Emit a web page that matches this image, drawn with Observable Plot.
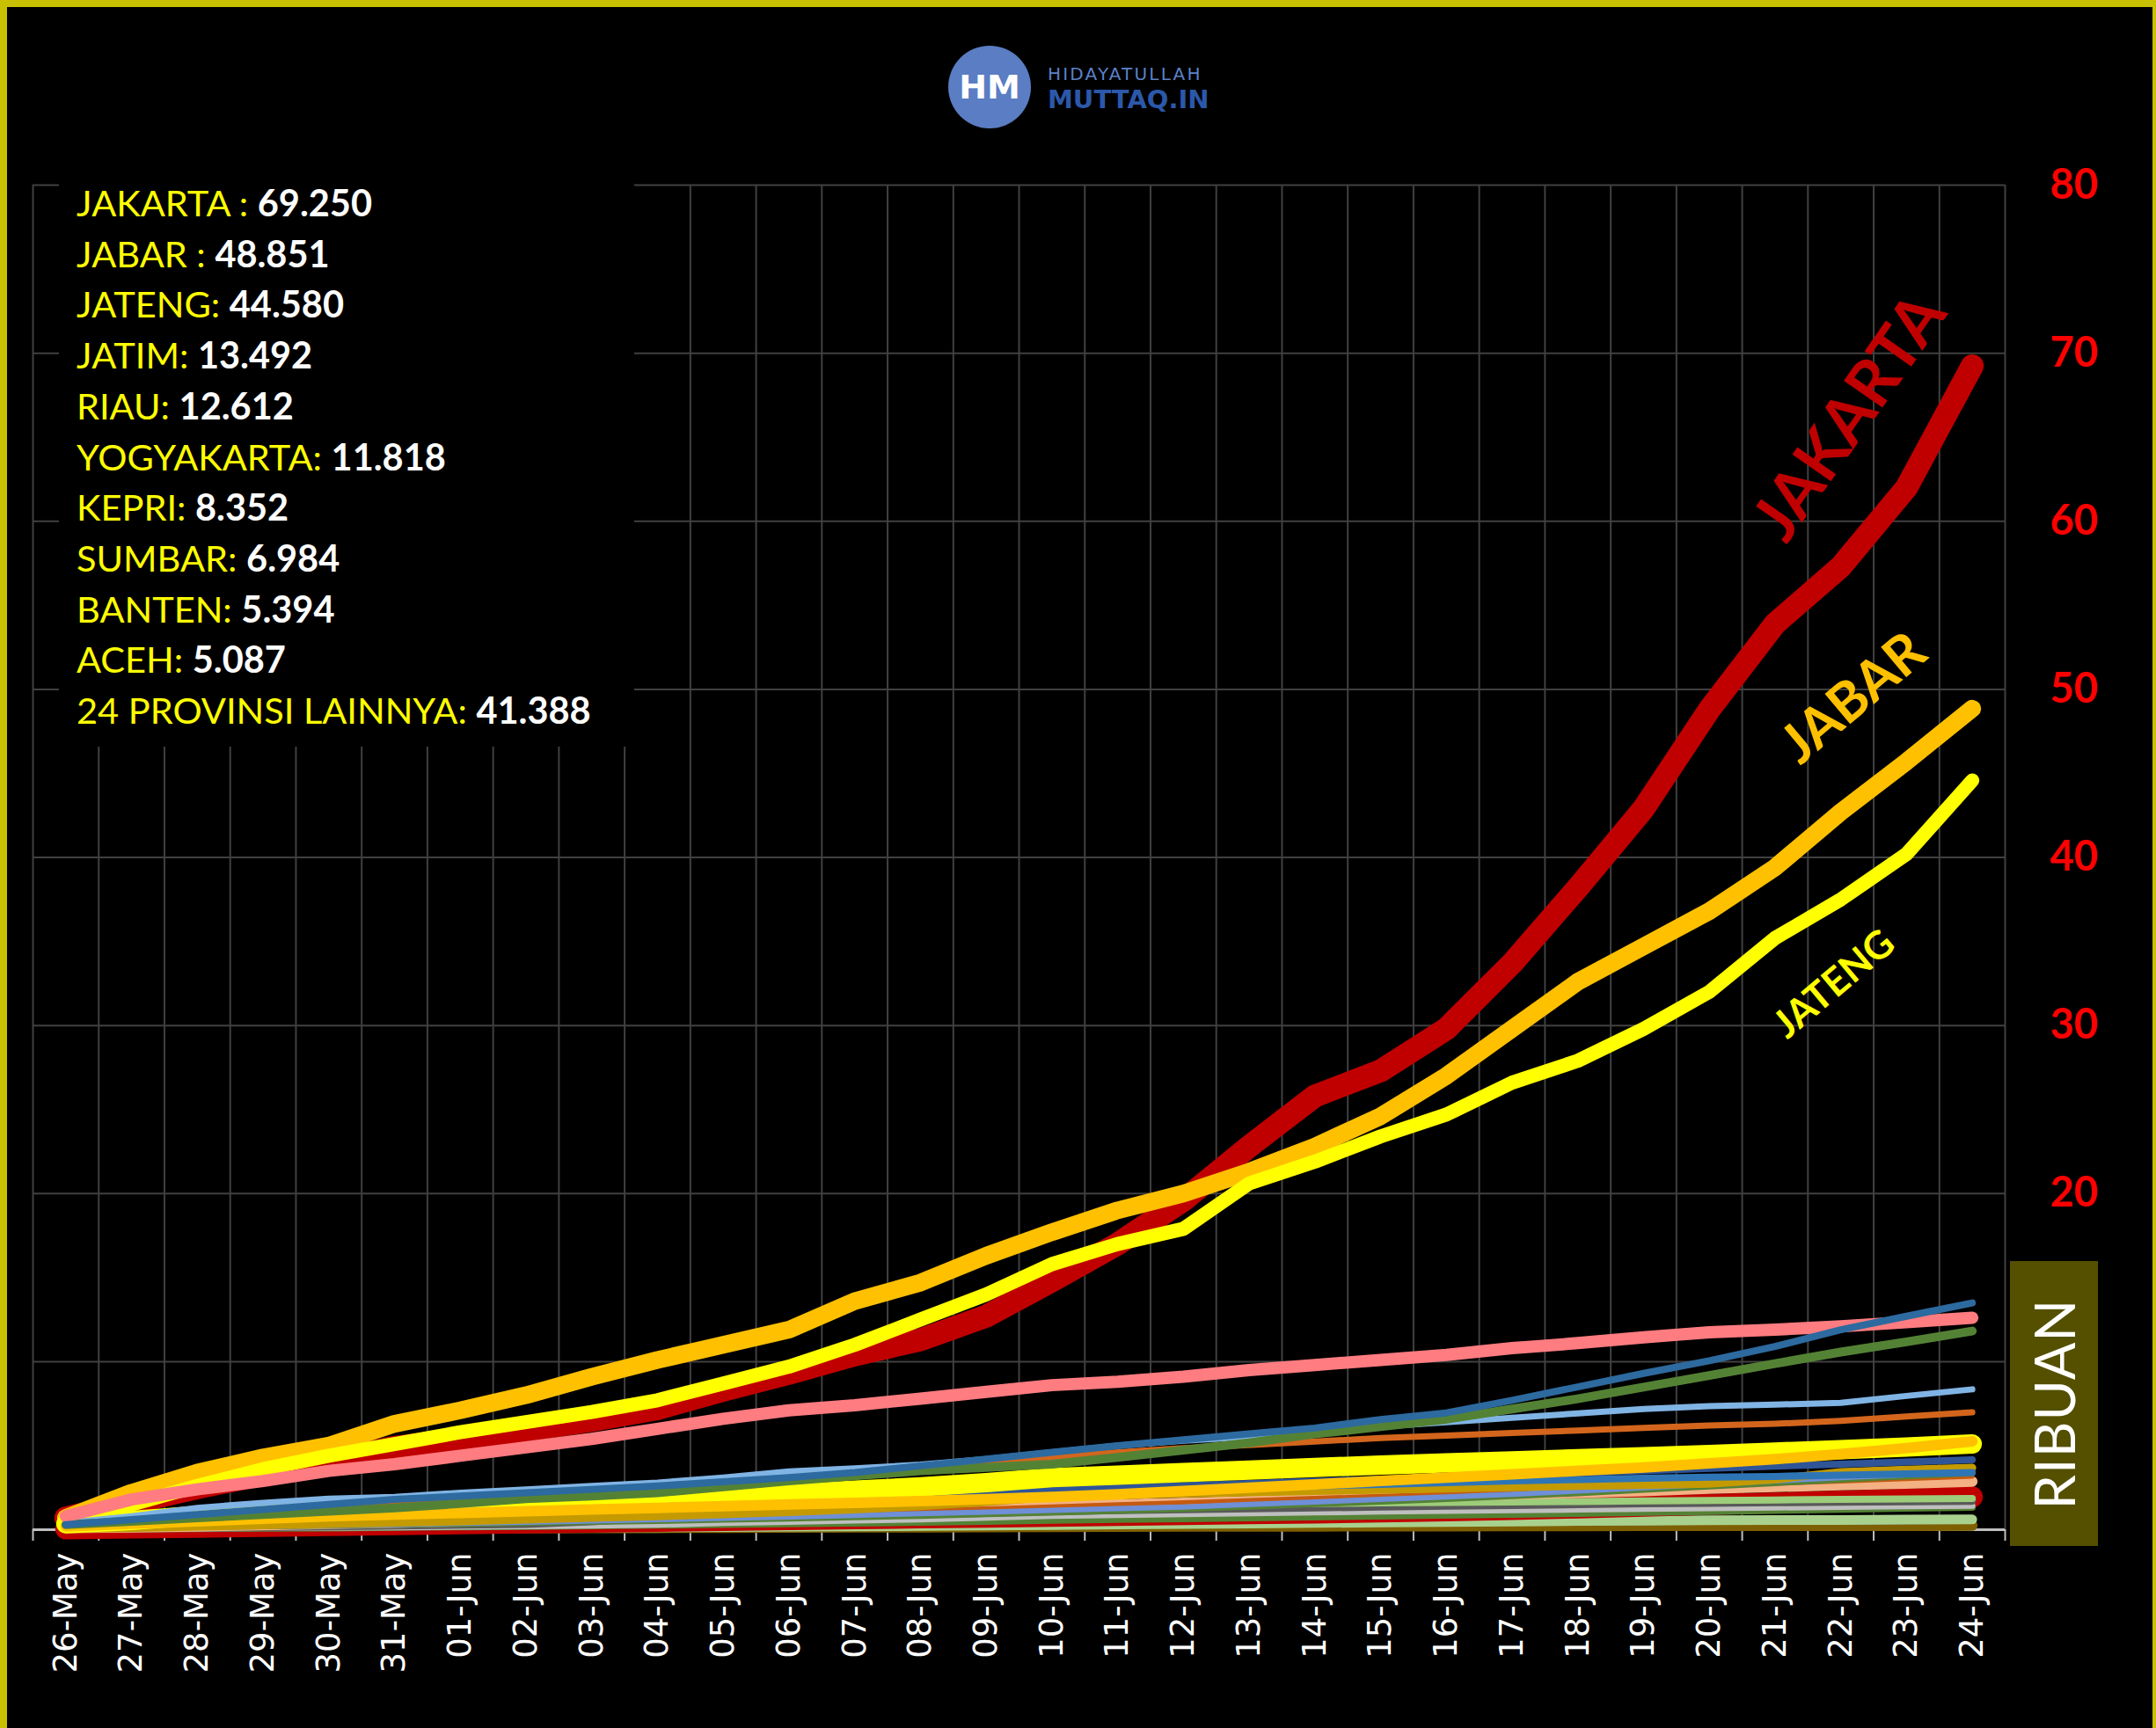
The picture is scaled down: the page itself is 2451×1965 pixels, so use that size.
<!DOCTYPE html>
<html>
<head>
<meta charset="utf-8">
<script src="https://cdn.jsdelivr.net/npm/d3@7"></script>
<script src="https://cdn.jsdelivr.net/npm/@observablehq/plot@0.6"></script>
<style>
  html, body { margin: 0; padding: 0; background: #000; }
  #wrap { position: relative; width: 2451px; height: 1965px; background: #000; overflow: hidden; }
  #chart { position: absolute; left: 0; top: 0; }
  .abs { position: absolute; }
</style>
</head>
<body>
<div id="wrap">
  <div id="chart"></div>
</div>
<script>
// ---------- DATA ----------
const dates = ["26-May","27-May","28-May","29-May","30-May","31-May","01-Jun","02-Jun","03-Jun","04-Jun",
  "05-Jun","06-Jun","07-Jun","08-Jun","09-Jun","10-Jun","11-Jun","12-Jun","13-Jun","14-Jun",
  "15-Jun","16-Jun","17-Jun","18-Jun","19-Jun","20-Jun","21-Jun","22-Jun","23-Jun","24-Jun"];

// values in thousands (ribuan)
const jakarta = [0.7,1.6,2.5,3.3,4.1,4.9,5.4,5.9,6.5,7.2,8.3,9.3,10.4,11.3,12.7,14.8,17.0,19.6,22.8,25.8,27.3,29.8,33.7,38.2,42.9,48.8,53.9,57.3,62.0,69.25];
const jabar   = [0.7,2.2,3.4,4.3,5.0,6.3,7.1,8.0,9.1,10.1,11.0,11.9,13.6,14.7,16.3,17.7,19.0,20.0,21.3,22.8,24.6,27.0,29.8,32.6,34.7,36.8,39.4,42.7,45.7,48.851];
const jateng  = [0.7,1.5,2.6,3.6,4.4,5.1,5.8,6.4,7.0,7.7,8.7,9.7,11.0,12.5,14.0,15.8,17.0,17.9,20.6,21.9,23.4,24.7,26.6,27.9,29.8,32.0,35.2,37.5,40.2,44.58];
const jatim   = [0.3,0.6,0.9,1.2,1.5,1.8,2.0,2.2,2.4,2.6,2.85,3.1,3.4,3.8,4.2,4.6,5.0,5.35,5.7,6.05,6.55,6.95,7.7,8.5,9.3,10.05,10.9,11.9,12.7,13.492];
const riau    = [0.8,1.8,2.4,2.9,3.5,3.9,4.4,4.9,5.4,6.0,6.6,7.1,7.4,7.8,8.2,8.6,8.8,9.1,9.5,9.8,10.1,10.4,10.8,11.1,11.45,11.75,11.9,12.1,12.35,12.612];
const yogyakarta = [0.3,0.5,0.7,0.9,1.1,1.3,1.55,1.85,2.0,2.2,2.55,2.9,3.2,3.5,3.7,3.9,4.3,4.74,5.17,5.7,6.13,6.57,7.18,7.79,8.48,9.18,9.88,10.57,11.18,11.818];
const kepri   = [0.4,0.8,1.3,1.6,1.85,1.95,2.2,2.4,2.6,2.8,3.1,3.47,3.65,3.87,4.2,4.6,5.0,5.3,5.52,5.78,6.13,6.39,6.66,6.92,7.18,7.35,7.44,7.55,7.96,8.352];
const sumbar  = [0.3,0.55,0.85,1.17,1.43,1.55,1.72,2.0,2.18,2.42,2.82,3.2,3.4,3.6,3.95,4.3,4.6,4.85,5.03,5.25,5.45,5.6,5.75,5.9,6.05,6.2,6.3,6.48,6.74,6.984];
const banten  = [0.35,0.55,0.85,1.1,1.3,1.45,1.6,1.7,1.8,1.9,2.0,2.15,2.35,2.55,2.8,3.1,3.25,3.4,3.55,3.7,3.85,3.98,4.1,4.22,4.34,4.48,4.62,4.76,4.92,5.1];
const aceh    = [0.2,0.35,0.5,0.65,0.8,0.9,1.0,1.1,1.2,1.3,1.4,1.5,1.6,1.7,1.82,1.95,2.1,2.3,2.5,2.7,2.9,3.1,3.3,3.5,3.7,3.95,4.2,4.5,4.85,5.26];
// a selection of the other provinces (24 provinsi lainnya)
const lainBlue      = [0.2,0.35,0.5,0.65,0.8,0.95,1.05,1.2,1.35,1.45,1.6,1.75,1.9,2.05,2.2,2.39,2.5,2.62,2.75,2.88,3.0,3.12,3.25,3.37,3.5,3.65,3.78,3.9,4.03,4.16];
const lainMidBlue   = [0.15,0.3,0.45,0.6,0.75,0.9,1.0,1.15,1.3,1.42,1.55,1.68,1.8,1.92,2.05,2.2,2.3,2.4,2.5,2.6,2.7,2.8,2.9,2.98,3.06,3.12,3.17,3.25,3.32,3.4];
const lainGold      = [0.05,0.1,0.18,0.26,0.34,0.42,0.5,0.6,0.7,0.8,0.92,1.05,1.2,1.4,1.65,1.95,2.05,2.15,2.22,2.3,2.38,2.45,2.52,2.6,2.66,2.73,3.0,3.43,3.57,3.69];
const lainCornflower= [0.05,0.1,0.15,0.2,0.25,0.3,0.38,0.45,0.52,0.6,0.68,0.76,0.85,0.95,1.05,1.15,1.25,1.35,1.5,1.65,1.8,1.95,2.1,2.3,2.5,2.7,2.9,3.1,3.27,3.43];
const lainGreen     = [0.05,0.1,0.14,0.18,0.22,0.27,0.32,0.38,0.44,0.5,0.57,0.64,0.72,0.8,0.9,1.0,1.1,1.22,1.35,1.5,1.65,1.8,1.97,2.15,2.35,2.55,2.75,2.95,3.15,3.34];
const lainRust      = [0.1,0.16,0.22,0.3,0.38,0.46,0.54,0.62,0.7,0.78,0.86,0.95,1.05,1.15,1.26,1.38,1.5,1.62,1.75,1.88,2.0,2.12,2.25,2.38,2.5,2.62,2.75,2.88,3.02,3.17];
const lainPeach     = [0.1,0.15,0.2,0.28,0.35,0.42,0.5,0.58,0.66,0.74,0.82,0.9,1.0,1.1,1.25,1.4,1.5,1.6,1.7,1.8,1.9,2.0,2.1,2.2,2.3,2.45,2.55,2.65,2.75,2.87];
const lainLime      = [0.1,0.2,0.35,0.5,0.65,0.8,0.95,1.05,1.12,1.18,1.22,1.26,1.3,1.34,1.38,1.42,1.46,1.5,1.53,1.56,1.59,1.62,1.65,1.68,1.71,1.74,1.77,1.8,1.83,1.86];
const lainRed       = [0.05,0.1,0.15,0.2,0.25,0.3,0.35,0.4,0.45,0.5,0.55,0.6,0.65,0.7,0.75,0.8,0.85,0.9,0.95,1.0,1.06,1.12,1.2,1.3,1.4,1.5,1.6,1.7,1.82,1.95];
const lainGray      = [0.05,0.08,0.12,0.16,0.2,0.25,0.3,0.34,0.5,0.72,0.76,0.8,0.86,0.93,1.0,1.1,1.17,1.22,1.27,1.32,1.37,1.42,1.47,1.52,1.57,1.6,1.63,1.66,1.69,1.72];
const lainSilver    = [0.03,0.05,0.08,0.1,0.12,0.15,0.18,0.21,0.25,0.3,0.4,0.47,0.55,0.62,0.72,0.82,0.88,0.93,0.98,1.03,1.08,1.12,1.16,1.2,1.24,1.28,1.32,1.36,1.4,1.43];
const lainGreen2    = [0.03,0.05,0.07,0.09,0.11,0.14,0.17,0.2,0.23,0.27,0.31,0.35,0.39,0.44,0.5,0.56,0.61,0.66,0.71,0.76,0.81,0.86,0.91,0.97,1.03,1.09,1.15,1.21,1.28,1.34];
const lainPaleGreen = [0.02,0.03,0.04,0.05,0.06,0.07,0.08,0.1,0.12,0.14,0.16,0.18,0.2,0.22,0.25,0.28,0.31,0.34,0.37,0.4,0.43,0.46,0.49,0.52,0.54,0.56,0.57,0.58,0.6,0.61];
const lainThinBlue  = [0.02,0.03,0.04,0.05,0.06,0.07,0.08,0.09,0.1,0.11,0.12,0.13,0.14,0.16,0.18,0.2,0.22,0.24,0.26,0.28,0.3,0.32,0.34,0.36,0.38,0.39,0.4,0.41,0.43,0.44];
const lainBrown     = [0.02,0.03,0.04,0.05,0.06,0.07,0.08,0.09,0.1,0.11,0.12,0.13,0.14,0.15,0.16,0.17,0.18,0.19,0.2,0.2,0.21,0.21,0.22,0.22,0.23,0.23,0.24,0.24,0.24,0.25];

const yTicks = [10,20,30,40,50,60,70,80];
const yLabelTicks = [20,30,40,50,60,70,80];

const legendNames  = ["JAKARTA : ","JABAR : ","JATENG: ","JATIM: ","RIAU: ","YOGYAKARTA: ","KEPRI: ","SUMBAR: ","BANTEN: ","ACEH: ","24 PROVINSI LAINNYA: "];
const legendValues = ["69.250","48.851","44.580","13.492","12.612","11.818","8.352","6.984","5.394","5.087","41.388"];

// ---------- STYLES (separate from data) ----------
// drawing order: first drawn = bottom
const series = [
  {name: "JAKARTA", values: jakarta, color: "#c00000", width: 26},
  {name: "JABAR", values: jabar, color: "#ffc000", width: 20},
  {name: "JATENG", values: jateng, color: "#ffff00", width: 16},
  {name: "lainBrown", values: lainBrown, color: "#7f6000", width: 12},
  {name: "lainThinBlue", values: lainThinBlue, color: "#4472c4", width: 4},
  {name: "lainPaleGreen", values: lainPaleGreen, color: "#a9d18e", width: 11},
  {name: "lainRed", values: lainRed, color: "#c00000", width: 24},
  {name: "lainGreen2", values: lainGreen2, color: "#548235", width: 8},
  {name: "lainSilver", values: lainSilver, color: "#bfbfbf", width: 7},
  {name: "lainGray", values: lainGray, color: "#595959", width: 9},
  {name: "lainLime", values: lainLime, color: "#9dcc7a", width: 8},
  {name: "lainPeach", values: lainPeach, color: "#f4b183", width: 12},
  {name: "lainRust", values: lainRust, color: "#c55a11", width: 5},
  {name: "lainGreen", values: lainGreen, color: "#548235", width: 6},
  {name: "lainCornflower", values: lainCornflower, color: "#6f8fd6", width: 6},
  {name: "lainGold", values: lainGold, color: "#c49a00", width: 9},
  {name: "lainMidBlue", values: lainMidBlue, color: "#2e75b6", width: 8},
  {name: "lainBlue", values: lainBlue, color: "#2f5597", width: 8},
  {name: "BANTEN", values: banten, color: "#ffff00", width: 22},
  {name: "ACEH", values: aceh, color: "#ffc000", width: 12},
  {name: "SUMBAR", values: sumbar, color: "#d3661c", width: 7},
  {name: "KEPRI", values: kepri, color: "#80b4e4", width: 7},
  {name: "YOGYAKARTA", values: yogyakarta, color: "#548235", width: 10},
  {name: "RIAU", values: riau, color: "#ff7c80", width: 14},
  {name: "JATIM", values: jatim, color: "#2d6a9f", width: 8}
];

const idx = d3.range(dates.length);
const boundaries = d3.range(dates.length + 1).map(i => i - 0.5);

const lineMarks = series.map(s =>
  Plot.line(s.values.map((v, i) => ({i, v})), {
    x: "i", y: "v", stroke: s.color, strokeWidth: s.width,
    strokeLinecap: "round", strokeLinejoin: "round"
  })
);

// annotation labels, anchored to the 23-Jun point of each big series
const annot = [
  {text: "JAKARTA", values: jakarta, color: "#c00000", size: 74, rotate: -55, dx: -64, dy: -80},
  {text: "JABAR", values: jabar, color: "#ffc000", size: 62, rotate: -40, dx: -60, dy: -72},
  {text: "JATENG", values: jateng, color: "#ffff00", size: 44, rotate: -40, dx: -82, dy: 148}
];
const annotMarks = annot.map(a =>
  Plot.text([{i: 28, v: a.values[28]}], {
    x: "i", y: "v", text: () => a.text, fill: a.color, fontSize: a.size,
    fontWeight: "bold", fontFamily: "Lato", rotate: a.rotate, dx: a.dx, dy: a.dy,
    textAnchor: "middle", lineAnchor: "middle"
  })
);

const chart = Plot.plot({
  width: 2451, height: 1965,
  marginTop: 210, marginBottom: 226, marginLeft: 37, marginRight: 172,
  style: {background: "#000", color: "white", overflow: "visible"},
  x: {domain: [-0.5, 29.5], axis: null},
  y: {domain: [0, 80], axis: null},
  marks: [
    Plot.gridY(yTicks, {stroke: "#404040", strokeOpacity: 1, strokeWidth: 2}),
    Plot.ruleX(boundaries, {stroke: "#404040", strokeWidth: 2}),
    Plot.ruleY([0], {stroke: "#bfbfbf", strokeWidth: 3}),
    Plot.axisX(boundaries, {tickSize: 13, tickFormat: () => "", stroke: "#bfbfbf", strokeWidth: 2, label: null}),
    Plot.axisX(idx, {tickSize: 0, tickPadding: 26, tickRotate: -90, tickFormat: i => dates[i],
      fill: "white", fontSize: 37, fontFamily: "DejaVu Sans", label: null}),
    Plot.axisY(yLabelTicks, {anchor: "right", tickSize: 0, tickPadding: 51, fill: "#ff0000",
      fontSize: 47, fontWeight: "bold", fontFamily: "Lato", label: null}),
    ...lineMarks,
    ...annotMarks
  ]
});
document.getElementById("chart").appendChild(chart);

const wrap = document.getElementById("wrap");
function addDiv(css, html) {
  const d = document.createElement("div");
  d.className = "abs";
  d.style.cssText = css;
  if (html != null) d.innerHTML = html;
  wrap.appendChild(d);
  return d;
}

// legend box
const legend = addDiv("left:67px;top:202px;width:654px;height:647px;background:#000;box-sizing:border-box;padding-left:20px;font-family:Lato;font-size:41.5px;line-height:57.7px;white-space:nowrap;");
legendNames.forEach((n, k) => {
  const row = document.createElement("div");
  row.innerHTML = `<span style="color:#ffff00">${n}</span><span style="color:#fff;font-weight:bold">${legendValues[k]}</span>`;
  legend.appendChild(row);
});

// RIBUAN box
addDiv("left:2285px;top:1434px;width:100px;height:324px;background:#545000;display:flex;align-items:center;justify-content:center;",
  `<div style="transform:rotate(-90deg);color:#fff;font-family:Lato;font-size:63px;white-space:nowrap;letter-spacing:1px;">RIBUAN</div>`);

// logo
addDiv("left:1078px;top:52px;width:94px;height:94px;border-radius:50%;background:#5a7dc3;display:flex;align-items:center;justify-content:center;color:#fff;font-family:'DejaVu Sans';font-weight:bold;font-size:38px;line-height:1;",
  "HM");
addDiv("left:1191px;top:74px;font-family:'DejaVu Sans';font-size:20px;line-height:1;letter-spacing:2.2px;color:#5b82c9;white-space:nowrap;", "HIDAYATULLAH");
addDiv("left:1191px;top:99px;font-family:'DejaVu Sans';font-weight:bold;font-size:29px;line-height:1;color:#2c58aa;white-space:nowrap;", "MUTTAQ.IN");

// frame (top, left, right edges)
addDiv("left:0;top:0;width:2451px;height:8px;background:#c8c000;");
addDiv("left:0;top:0;width:8px;height:1965px;background:#c8c000;");
addDiv("left:2447px;top:0;width:4px;height:1965px;background:#c8c000;");
</script>
</body>
</html>
